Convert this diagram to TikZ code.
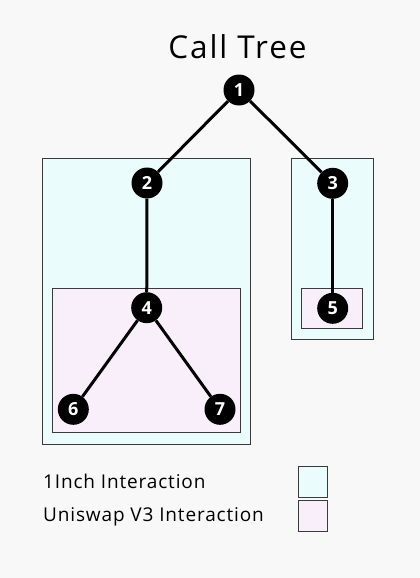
\documentclass[tikz,border=0pt]{standalone}
\usepackage{fontspec}
\setmainfont[Ligatures={NoCommon}]{Open Sans}
\definecolor{bgc}{HTML}{F8F8F8}
\definecolor{cyanfill}{HTML}{EAFCFC}
\definecolor{pinkfill}{HTML}{F9EFFB}
\definecolor{boxline}{HTML}{3A3A3A}
\begin{document}
\begin{tikzpicture}[x=1pt,y=-1pt,
  callnode/.style={circle,fill=black,text=white,minimum size=31pt,inner sep=0pt,font=\fontsize{18}{18}\selectfont\bfseries},
  edge/.style={line width=3pt,black},
  onebox/.style={draw=boxline,fill=cyanfill,line width=1pt},
  unibox/.style={draw=boxline,fill=pinkfill,line width=1pt},
  lbl/.style={anchor=base west,inner sep=0pt,font=\fontsize{19}{20}\selectfont\addfontfeature{LetterSpace=4.5}}]
\fill[bgc] (0,0) rectangle (420,578);
\useasboundingbox (0,0) rectangle (420,578);
% containers
\draw[onebox] (42,158) rectangle (250.5,444);
\draw[unibox] (52.7,288.3) rectangle (240.5,432.7);
\draw[onebox] (291.3,158.3) rectangle (373.3,339.3);
\draw[unibox] (301.7,288.3) rectangle (362.7,328.3);
% title
\node[anchor=base,inner sep=0pt,font=\fontsize{31.5}{34}\selectfont\addfontfeature{LetterSpace=6}] (title) at (237.5,59) {Call Tree};
% nodes
\node[callnode] (n1) at (239,90) {1};
\node[callnode] (n2) at (147,183) {2};
\node[callnode] (n3) at (332.7,183.3) {3};
\node[callnode] (n4) at (146.7,307.7) {4};
\node[callnode] (n5) at (332.7,308.3) {5};
\node[callnode] (n6) at (73.3,409.3) {6};
\node[callnode] (n7) at (220,409.3) {7};
% edges
\draw[edge] (n1) -- (n2);
\draw[edge] (n1) -- (n3);
\draw[edge] (n2) -- (n4);
\draw[edge] (n3) -- (n5);
\draw[edge] (n4) -- (n6);
\draw[edge] (n4) -- (n7);
% legend
\node[lbl] (l1) at (43,488) {1Inch Interaction};
\node[lbl] (l2) at (43,521.7) {Uniswap V3 Interaction};
\node[onebox,draw,minimum width=29.6pt,minimum height=30.7pt,inner sep=0pt,anchor=north west] (k1) at (297.7,466) {};
\node[unibox,draw,minimum width=29.6pt,minimum height=31pt,inner sep=0pt,anchor=north west] (k2) at (297.7,500) {};
\end{tikzpicture}
\end{document}
